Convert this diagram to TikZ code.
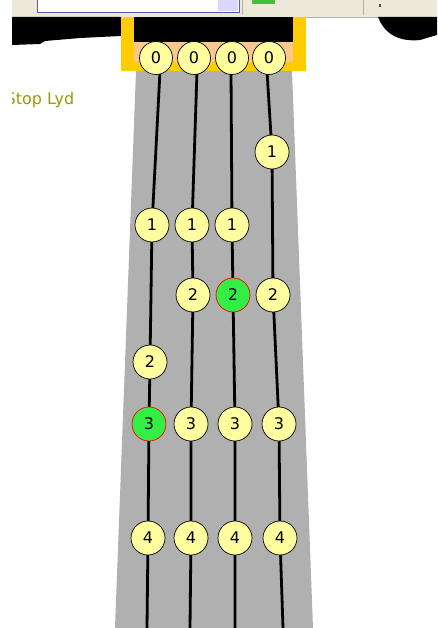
\documentclass[tikz,border=0pt]{standalone}
\usepackage{fontspec}
\setmainfont{DejaVu Sans}
\definecolor{toolbar}{HTML}{ECE9D8}
\definecolor{boardgray}{HTML}{B0B0B0}
\definecolor{nutyellow}{HTML}{FFCC00}
\definecolor{nutpeach}{HTML}{F8C98A}
\definecolor{noteyellow}{HTML}{FFFFA0}
\definecolor{notegreen}{HTML}{33EE44}
\definecolor{olivetext}{HTML}{9C9A00}
\tikzset{
  note/.style={circle,draw=black,line width=0.7pt,fill=noteyellow,minimum size=34pt,inner sep=0pt,font=\fontsize{16}{16}\selectfont},
  open/.style={note,minimum size=33pt},
  hit/.style={note,fill=notegreen,draw=red},
  gut/.style={line width=2.8pt,black,line join=round}
}
\begin{document}
\begin{tikzpicture}[x=1pt,y=-1pt]
\useasboundingbox (0,0) rectangle (437,628);
\fill[white] (0,0) rectangle (437,628);
% toolbar
\fill[toolbar] (12,0) rectangle (437,17);
\draw[gray!60] (12,17) -- (437,17);
\fill[white] (37,0) rectangle (239,12);
\draw[gray!70!blue] (37,0) -- (37,12) -- (239,12) -- (239,0);
\fill[blue!15] (218,0) rectangle (238,11);
\draw[gray!60] (242,0) -- (242,15);
\fill[green!50!gray] (252,0) rectangle (275,4);
\draw[gray!60] (363,0) -- (363,15);
\fill[black!70] (379,4) rectangle (381,7);
% black shapes
\fill[black] (12,17) -- (121,17) -- (121,36) -- (80,38) -- (45,41) -- (40,44) -- (12,45) -- cycle;
\fill[black] (378,17) .. controls (385,35) and (400,42) .. (420,40) -- (437,35) -- (437,17) -- cycle;
% text
\begin{scope}
\clip (12,80) rectangle (120,120);
\node[anchor=west,inner sep=0pt,text=olivetext,font=\fontsize{16}{16}\selectfont] (stop) at (5.5,100) {Stop Lyd};
\end{scope}
% fingerboard
\fill[boardgray] (136,71) -- (292,71) -- (313,628) -- (115,628) -- cycle;
% nut
\fill[nutyellow] (121,17) rectangle (306,71);
\fill[nutpeach] (134,17) rectangle (293,62);
\fill[black] (134,17) rectangle (293,42);
% string coordinates
\coordinate (t1) at (160,71); \coordinate (b1) at (147,628);
\coordinate (t2) at (197,71); \coordinate (b2) at (190,628);
\coordinate (t3) at (231,71); \coordinate (b3) at (235,628);
\coordinate (t4) at (267,71); \coordinate (b4) at (283,628);
% note positions
\coordinate (p10) at (156,58); \coordinate (p20) at (194,58); \coordinate (p30) at (232,58); \coordinate (p40) at (269,58);
\coordinate (p41) at (272,152);
\coordinate (p11) at (152,225); \coordinate (p21) at (192,225); \coordinate (p31) at (232,225);
\coordinate (p22) at (193,295); \coordinate (p32) at (233,295); \coordinate (p42) at (273,295);
\coordinate (p12) at (150,362);
\coordinate (p13) at (149,424); \coordinate (p23) at (191,424); \coordinate (p33) at (235,424); \coordinate (p43) at (279,424);
\coordinate (p14) at (148,538); \coordinate (p24) at (191,538); \coordinate (p34) at (235,538); \coordinate (p44) at (280,538);
% strings
\draw[gut] (t1) -- (p11) -- (p12) -- (p13) -- (p14) -- (b1);
\draw[gut] (t2) -- (p21) -- (p22) -- (p23) -- (p24) -- (b2);
\draw[gut] (t3) -- (p31) -- (p32) -- (p33) -- (p34) -- (b3);
\draw[gut] (t4) -- (p41) -- (p42) -- (p43) -- (p44) -- (b4);
% notes
\node[open] (n10) at (p10) {0};
\node[open] (n20) at (p20) {0};
\node[open] (n30) at (p30) {0};
\node[open] (n40) at (p40) {0};
\node[note] (n41) at (p41) {1};
\node[note] (n11) at (p11) {1};
\node[note] (n21) at (p21) {1};
\node[note] (n31) at (p31) {1};
\node[note] (n22) at (p22) {2};
\node[hit]  (n32) at (p32) {2};
\node[note] (n42) at (p42) {2};
\node[note] (n12) at (p12) {2};
\node[hit]  (n13) at (p13) {3};
\node[note] (n23) at (p23) {3};
\node[note] (n33) at (p33) {3};
\node[note] (n43) at (p43) {3};
\node[note] (n14) at (p14) {4};
\node[note] (n24) at (p24) {4};
\node[note] (n34) at (p34) {4};
\node[note] (n44) at (p44) {4};
\end{tikzpicture}
\end{document}
